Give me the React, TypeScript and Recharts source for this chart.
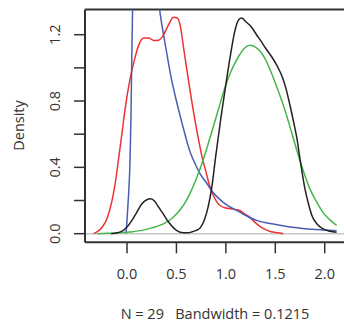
import { LineChart, Line, XAxis, YAxis, ReferenceLine, Label } from 'recharts'

// density curves: [x, density]
const redPts = [
  [-0.34, 0], [-0.3, 0.012], [-0.25, 0.04], [-0.2, 0.095], [-0.155, 0.19], [-0.12, 0.3],
  [-0.09, 0.43], [-0.05, 0.61], [-0.02, 0.75], [0.03, 0.93], [0.08, 1.06], [0.12, 1.14],
  [0.17, 1.18], [0.22, 1.18], [0.27, 1.165], [0.31, 1.165], [0.36, 1.19], [0.42, 1.26],
  [0.47, 1.305], [0.51, 1.3], [0.54, 1.25], [0.57, 1.13], [0.61, 0.97], [0.66, 0.78],
  [0.71, 0.61], [0.76, 0.46], [0.8, 0.37], [0.83, 0.3], [0.86, 0.25], [0.9, 0.2],
  [0.94, 0.17], [1.0, 0.155], [1.05, 0.15], [1.1, 0.145], [1.14, 0.14], [1.19, 0.12],
  [1.24, 0.1], [1.3, 0.065], [1.38, 0.03], [1.45, 0.013], [1.52, 0.005], [1.58, 0],
]

const bluePts = [
  [-0.01, 0], [0.0, 0.08], [0.01, 0.18], [0.02, 0.28], [0.03, 0.43], [0.04, 0.7],
  [0.047, 1.0], [0.057, 1.38], [0.07, 1.9], [0.09, 2.4], [0.12, 2.7], [0.16, 2.6],
  [0.2, 2.25], [0.25, 1.8], [0.29, 1.55], [0.33, 1.35], [0.39, 1.13], [0.45, 0.93],
  [0.5, 0.8], [0.555, 0.67], [0.64, 0.49], [0.69, 0.42], [0.74, 0.36], [0.8, 0.31],
  [0.855, 0.26], [0.97, 0.19], [1.14, 0.13], [1.31, 0.08], [1.48, 0.058], [1.65, 0.04],
  [1.8, 0.03], [2.0, 0.022], [2.12, 0.018],
]

const blackPts = [
  [-0.16, 0], [-0.1, 0.005], [-0.05, 0.015], [0.0, 0.04], [0.05, 0.08], [0.1, 0.13],
  [0.15, 0.18], [0.2, 0.205], [0.24, 0.21], [0.28, 0.195], [0.32, 0.16], [0.36, 0.125],
  [0.42, 0.07], [0.5, 0.02], [0.57, 0.005], [0.62, 0.005], [0.66, 0.012], [0.7, 0.02],
  [0.74, 0.035], [0.78, 0.08], [0.82, 0.16], [0.855, 0.27], [0.9, 0.48], [0.95, 0.7],
  [1.0, 0.9], [1.05, 1.09], [1.09, 1.22], [1.13, 1.29], [1.16, 1.3], [1.2, 1.28],
  [1.26, 1.245], [1.31, 1.2], [1.35, 1.166], [1.4, 1.12], [1.46, 1.07], [1.52, 1.01],
  [1.57, 0.946], [1.61, 0.87], [1.65, 0.77], [1.69, 0.66], [1.72, 0.57], [1.75, 0.45],
  [1.8, 0.27], [1.84, 0.17], [1.87, 0.11], [1.92, 0.06], [1.98, 0.03], [2.05, 0.015],
  [2.12, 0.008],
]

const greenPts = [
  [-0.3, 0], [-0.2, 0.002], [-0.1, 0.004], [0.0, 0.008], [0.06, 0.012], [0.15, 0.02],
  [0.25, 0.035], [0.33, 0.05], [0.4, 0.07], [0.45, 0.09], [0.5, 0.118], [0.55, 0.155],
  [0.6, 0.2], [0.65, 0.26], [0.7, 0.33], [0.75, 0.41], [0.8, 0.5], [0.85, 0.6],
  [0.92, 0.74], [0.99, 0.88], [1.06, 0.99], [1.13, 1.07], [1.19, 1.12], [1.245, 1.136],
  [1.3, 1.125], [1.36, 1.09], [1.41, 1.04], [1.46, 0.97], [1.53, 0.86], [1.6, 0.74],
  [1.67, 0.6], [1.75, 0.44], [1.8, 0.35], [1.85, 0.27], [1.92, 0.19], [1.98, 0.13],
  [2.05, 0.085], [2.12, 0.05],
]

const xTicks = [0, 0.5, 1, 1.5, 2]
const yTicks = [0, 0.2, 0.4, 0.6, 0.8, 1.0, 1.2]
const yLabelled = [0, 0.4, 0.8, 1.2]

const toRows = (pts: number[][]) => pts.map(([x, y]) => ({ x, y }))

const FONT = '"Open Sans", sans-serif'
const FS = 14.5
const TEXT = '#333'
const FRAME = '#333'

const series = [
  { name: 'red', pts: redPts, color: '#ee3131' },
  { name: 'blue', pts: bluePts, color: '#4a5db3' },
  { name: 'green', pts: greenPts, color: '#45b649' },
  { name: 'black', pts: blackPts, color: '#222222' },
]

function XTick({ x, payload }: any) {
  return (
    <text x={x} y={273} textAnchor="middle" dominantBaseline="central" fontSize={FS} fontFamily={FONT} fill={TEXT}>
      {payload.value.toFixed(1)}
    </text>
  )
}

function YTick({ y, payload }: any) {
  const v = payload.value
  if (!yLabelled.some((t) => Math.abs(t - v) < 1e-6)) return <g />
  return (
    <text
      x={55}
      y={y}
      transform={`rotate(-90 55 ${y})`}
      textAnchor="middle"
      dominantBaseline="central"
      fontSize={FS}
      fontFamily={FONT}
      fill={TEXT}
    >
      {v.toFixed(1)}
    </text>
  )
}

export default function App() {
  return (
    <div style={{ position: 'absolute', left: 0, top: 0, width: 344, height: 326, overflow: 'hidden', background: '#fff' }}>
      <LineChart width={350} height={326} margin={{ top: 9.5, right: 5, bottom: 0, left: 0 }}>
        <XAxis
          type="number"
          dataKey="x"
          domain={[-0.425, 2.205]}
          allowDataOverflow
          ticks={xTicks}
          tick={<XTick />}
          tickSize={11}
          height={83.7}
          axisLine={{ stroke: FRAME, strokeWidth: 2 }}
          tickLine={{ stroke: FRAME, strokeWidth: 1.5 }}
        >
          <Label
            content={() => (
              <text x={215} y={313} textAnchor="middle" dominantBaseline="central" fontSize={FS} fontFamily={FONT} fill={TEXT} style={{ whiteSpace: 'pre' }}>
                {'N = 29   Bandwidth = 0.1215'}
              </text>
            )}
          />
        </XAxis>
        <YAxis
          type="number"
          dataKey="y"
          domain={[-0.052, 1.352]}
          allowDataOverflow
          ticks={yTicks}
          tick={<YTick />}
          tickSize={11}
          width={85}
          axisLine={{ stroke: FRAME, strokeWidth: 2 }}
          tickLine={{ stroke: FRAME, strokeWidth: 1.5 }}
        >
          <Label
            content={() => (
              <text x={18.5} y={125.5} transform="rotate(-90 18.5 125.5)" textAnchor="middle" dominantBaseline="central" fontSize={FS} fontFamily={FONT} fill={TEXT}>
                Density
              </text>
            )}
          />
        </YAxis>
        <ReferenceLine y={0} stroke="#c8c8c8" strokeWidth={1.5} />
        <ReferenceLine y={1.352} stroke={FRAME} strokeWidth={2} />
        {series.map((s) => (
          <Line
            key={s.name}
            data={toRows(s.pts)}
            dataKey="y"
            type="monotone"
            stroke={s.color}
            strokeWidth={1.5}
            dot={false}
            isAnimationActive={false}
          />
        ))}
      </LineChart>
    </div>
  )
}
